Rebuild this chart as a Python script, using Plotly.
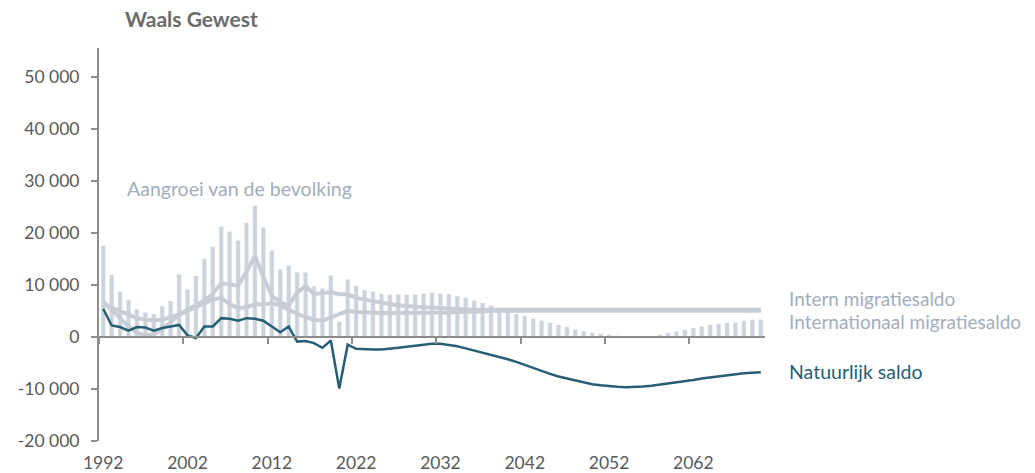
import plotly.graph_objects as go

years = list(range(1992, 2071))

# Aangroei van de bevolking (bars)
growth = [17500, 11900, 8700, 7100, 5300, 4700, 4400, 5900, 6900, 12000,
          9100, 11700, 15000, 17300, 21200, 20200, 18500, 21900, 25200, 21000,
          16600, 13000, 13700, 12400, 12400, 9700, 9300, 11800, 2900, 11000,
          9800, 9000, 8700, 8300, 8100, 8100, 8100, 8100, 8300, 8500,
          8300, 8200, 7800, 7500, 7000, 6500, 6000, 5500, 4900, 4400,
          4000, 3500, 3100, 2700, 2300, 1900, 1400, 1100, 800, 600,
          400, 200, 100, 0, 0, 150, 400, 750, 1050, 1350,
          1700, 2000, 2300, 2500, 2700, 2800, 3100, 3300, 3300]

# Internationaal migratiesaldo
international = [6800, 5200, 3500, 2000, 800, 300, 500, 1500, 2800, 4300,
                 5200, 6000, 7000, 8300, 10300, 10100, 9800, 12500, 15600, 11500,
                 7900, 6700, 6000, 8500, 9800, 8200, 8400, 8600, 8200, 8200,
                 7500, 7200, 6900, 6500, 6300, 6100, 5900, 5800, 5700, 5600,
                 5500, 5400, 5300, 5300, 5200, 5200, 5200, 5200, 5200, 5200,
                 5200, 5200, 5200, 5200, 5200, 5200, 5200, 5200, 5200, 5200,
                 5200, 5200, 5200, 5200, 5200, 5200, 5200, 5200, 5200, 5200,
                 5200, 5200, 5200, 5200, 5200, 5200, 5200, 5200, 5200]

# Intern migratiesaldo
internal = [6300, 5600, 4800, 4100, 3600, 3300, 3200, 3300, 3700, 4300,
            5000, 5800, 6500, 7200, 7500, 6300, 5500, 5700, 6300, 6200,
            6500, 6000, 5300, 4400, 3800, 3300, 3100, 3800, 4500, 5000,
            4800, 4700, 4600, 4600, 4600, 4600, 4600, 4600, 4600, 4600,
            4700, 4700, 4800, 4800, 4900, 4900, 5000, 5000, 5000, 5000,
            5000, 5000, 5000, 5000, 5000, 5000, 5000, 5000, 5000, 5000,
            5000, 5000, 5000, 5000, 5000, 5000, 5000, 5000, 5000, 5000,
            5000, 5000, 5000, 5000, 5000, 5000, 5000, 5000, 5000]

# Natuurlijk saldo
natural = [5400, 2200, 1900, 1200, 1900, 1800, 1200, 1700, 2000, 2300,
           300, -200, 2000, 2000, 3600, 3500, 3100, 3600, 3500, 3100,
           2000, 900, 2000, -900, -800, -1200, -2100, -700, -9900, -1500,
           -2300, -2400, -2400, -2400, -2300, -2100, -1900, -1700, -1500, -1300,
           -1300, -1500, -1800, -2200, -2600, -3000, -3400, -3800, -4300, -4800,
           -5400, -6000, -6500, -7100, -7600, -8000, -8400, -8800, -9100, -9300,
           -9500, -9600, -9650, -9650, -9550, -9400, -9200, -9000, -8800, -8600,
           -8300, -8000, -7800, -7500, -7300, -7100, -7000, -6900, -6800]

label_years = [1992, 2002, 2012, 2022, 2032, 2042, 2052, 2062]
y_ticks = [-20000, -10000, 0, 10000, 20000, 30000, 40000, 50000]
y_tick_text = ["-20 000", "-10 000", "0", "10 000", "20 000", "30 000", "40 000", "50 000"]

FONT = "Lato"
GREY_TXT = "#595959"
AXIS = "#8c8c8c"
BAR = "#cdd3db"
MIG = "#c8ced6"
NAT = "#265f73"
LBL = "#a3adbb"

y_range = [-20000, 55500]
zero_pos = (0 - y_range[0]) / (y_range[1] - y_range[0])

fig = go.Figure()
fig.add_trace(go.Bar(x=years, y=growth, marker_color=BAR, width=0.5,
                     name="Aangroei van de bevolking"))
fig.add_trace(go.Scatter(x=years, y=internal, mode="lines",
                         line=dict(color=MIG, width=4), name="Intern migratiesaldo"))
fig.add_trace(go.Scatter(x=years, y=international, mode="lines",
                         line=dict(color=MIG, width=4), name="Internationaal migratiesaldo"))
fig.add_trace(go.Scatter(x=years, y=natural, mode="lines",
                         line=dict(color=NAT, width=2.5), name="Natuurlijk saldo"))
# helper trace for the label axis
fig.add_trace(go.Scatter(x=[years[0]], y=[None], xaxis="x2", mode="lines",
                         showlegend=False, hoverinfo="skip"))

boundaries = [y - 0.5 for y in label_years]

fig.update_layout(
    width=1035, height=473,
    margin=dict(l=99, r=270, t=48, b=32),
    paper_bgcolor="white", plot_bgcolor="white",
    showlegend=False,
    font=dict(family=FONT, color=GREY_TXT, size=17),
    xaxis=dict(range=[1991.5, 2070.5], anchor="free", position=zero_pos,
               showline=True, linecolor=AXIS, linewidth=2, automargin=False,
               tickmode="array", tickvals=boundaries, ticks="outside",
               ticklen=6, tickwidth=2, tickcolor=AXIS,
               showticklabels=False, showgrid=False, zeroline=False),
    xaxis2=dict(range=[1991.5, 2070.5], overlaying="x", anchor="y", side="bottom",
                showline=False, tickmode="array", tickvals=label_years,
                ticktext=[str(v) for v in label_years], automargin=False,
                ticks="outside", ticklen=6, tickcolor="rgba(0,0,0,0)",
                showgrid=False, zeroline=False,
                tickfont=dict(family=FONT, size=17.5, color=GREY_TXT)),
    yaxis=dict(range=y_range, tickmode="array", tickvals=y_ticks, ticktext=y_tick_text,
               showline=True, linecolor=AXIS, linewidth=2, ticks="outside",
               ticklen=6, tickwidth=2, tickcolor=AXIS, showgrid=False, zeroline=False,
               tickfont=dict(family=FONT, size=17.5, color=GREY_TXT), automargin=False,
               ticklabelstandoff=8),
    bargap=0.5,
)

fig.add_annotation(text="<b>Waals Gewest</b>", xref="paper", yref="paper",
                   x=0.036, y=1.076, xanchor="left", yanchor="middle", showarrow=False,
                   font=dict(family=FONT, size=21, color="#6b6b6b"))
fig.add_annotation(text="Aangroei van de bevolking", xref="x", yref="y",
                   x=1994.6, y=28600, xanchor="left", yanchor="middle", showarrow=False,
                   font=dict(family=FONT, size=19.5, color=LBL))
fig.add_annotation(text="Intern migratiesaldo", xref="paper", yref="y",
                   x=1.033, y=7300, xanchor="left", yanchor="middle", showarrow=False,
                   font=dict(family=FONT, size=19, color=LBL))
fig.add_annotation(text="Internationaal migratiesaldo", xref="paper", yref="y",
                   x=1.033, y=2900, xanchor="left", yanchor="middle", showarrow=False,
                   font=dict(family=FONT, size=19, color=LBL))
fig.add_annotation(text="Natuurlijk saldo", xref="paper", yref="y",
                   x=1.033, y=-6700, xanchor="left", yanchor="middle", showarrow=False,
                   font=dict(family=FONT, size=19.5, color=NAT))

fig.write_html("out.html", config={"displayModeBar": False},
               post_script="document.body.style.margin='0';")
